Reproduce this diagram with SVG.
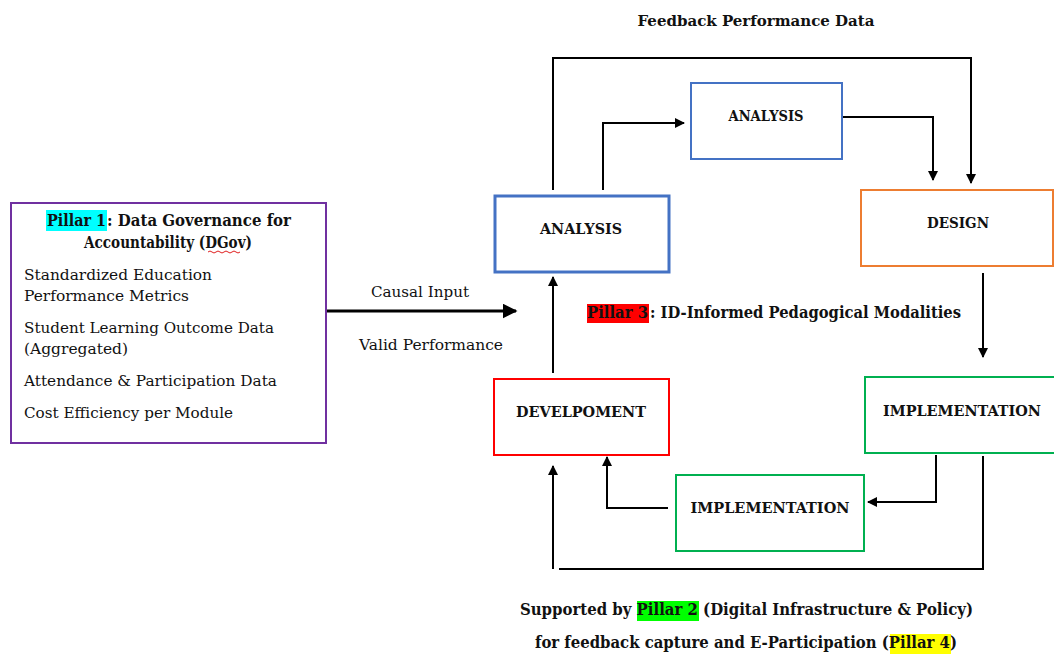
<svg xmlns="http://www.w3.org/2000/svg" width="1054" height="655" viewBox="0 0 1054 655">
<style>
text{font-family:"DejaVu Serif","Liberation Serif",serif;fill:#111}
.b{font-weight:bold}
.lbl{font-weight:bold;font-size:14.5px;text-anchor:middle}
.reg{font-size:15px}
.ln{fill:none;stroke:#000;stroke-width:2}
.box{fill:#fff}
</style>
<defs>
<marker id="ah" viewBox="0 0 10 10" refX="9" refY="5" markerWidth="5" markerHeight="5" orient="auto" markerUnits="strokeWidth">
<path d="M0,0 L10,5 L0,10 z" fill="#000"/>
</marker>
</defs>
<rect width="1054" height="655" fill="#fff"/>

<text class="b" x="756" y="26" font-size="15.5" text-anchor="middle" textLength="237" lengthAdjust="spacingAndGlyphs">Feedback Performance Data</text>

<g id="connectors">
<polyline class="ln" points="553,190 553,58 971,58 971,183" marker-end="url(#ah)"/>
<polyline class="ln" points="603,190 603,123 684,123" marker-end="url(#ah)"/>
<polyline class="ln" points="842,117 933,117 933,180" marker-end="url(#ah)"/>
<line class="ln" x1="983" y1="273" x2="983" y2="357" marker-end="url(#ah)"/>
<line class="ln" x1="553" y1="373" x2="553" y2="277" marker-end="url(#ah)"/>
<polyline class="ln" points="936,455 936,502 868,502" marker-end="url(#ah)"/>
<polyline class="ln" points="668,508 607,508 607,457" marker-end="url(#ah)"/>
<polyline class="ln" points="983,456 983,569 559,569"/>
<line class="ln" x1="553" y1="569" x2="553" y2="466" marker-end="url(#ah)"/>
<line x1="327" y1="311" x2="516" y2="311" stroke="#000" stroke-width="3" marker-end="url(#ah)"/>
</g>

<g id="pillar1">
<rect class="box" x="11" y="203" width="315" height="240" stroke="#7030A0" stroke-width="2"/>
<rect x="46" y="210" width="61" height="21" fill="#00FFFF"/>
<text class="b" x="47" y="226" font-size="16" textLength="59" lengthAdjust="spacingAndGlyphs">Pillar 1</text>
<text class="b" x="107" y="226" font-size="16" textLength="184" lengthAdjust="spacingAndGlyphs">: Data Governance for</text>
<text class="b" x="168" y="248" font-size="16" text-anchor="middle" textLength="168" lengthAdjust="spacingAndGlyphs">Accountability (DGov)</text>
<path d="M208,252 q2,-2 4,0 t4,0 t4,0 t4,0 t4,0 t4,0 t4,0 t4,0" fill="none" stroke="#e02020" stroke-width="1"/>
<text class="reg" x="24" y="280" textLength="188" lengthAdjust="spacingAndGlyphs">Standardized Education</text>
<text class="reg" x="24" y="301" textLength="165" lengthAdjust="spacingAndGlyphs">Performance Metrics</text>
<text class="reg" x="24" y="333" textLength="250" lengthAdjust="spacingAndGlyphs">Student Learning Outcome Data</text>
<text class="reg" x="24" y="354" textLength="104" lengthAdjust="spacingAndGlyphs">(Aggregated)</text>
<text class="reg" x="24" y="386" textLength="253" lengthAdjust="spacingAndGlyphs">Attendance &amp; Participation Data</text>
<text class="reg" x="24" y="418" textLength="209" lengthAdjust="spacingAndGlyphs">Cost Efficiency per Module</text>
</g>

<g id="edge-labels">
<text class="reg" x="420" y="297" text-anchor="middle" textLength="98" lengthAdjust="spacingAndGlyphs">Causal Input</text>
<text class="reg" x="431" y="350" text-anchor="middle" textLength="144" lengthAdjust="spacingAndGlyphs">Valid Performance</text>
</g>

<g id="analysis-main">
<rect class="box" x="495" y="196" width="174" height="76" stroke="#4472C4" stroke-width="3"/>
<text class="lbl" x="581" y="234" textLength="82" lengthAdjust="spacingAndGlyphs">ANALYSIS</text>
</g>

<g id="analysis-top">
<rect class="box" x="691" y="83" width="151" height="76" stroke="#4472C4" stroke-width="2"/>
<text class="lbl" x="766" y="121" font-size="13" textLength="75" lengthAdjust="spacingAndGlyphs">ANALYSIS</text>
</g>

<g id="design">
<rect class="box" x="861" y="190" width="192" height="76" stroke="#ED7D31" stroke-width="2"/>
<text class="lbl" x="958" y="228" textLength="62" lengthAdjust="spacingAndGlyphs">DESIGN</text>
</g>

<g id="implementation-right">
<rect class="box" x="865" y="377" width="192" height="76" stroke="#00B050" stroke-width="2"/>
<text class="lbl" x="962" y="416" textLength="158" lengthAdjust="spacingAndGlyphs">IMPLEMENTATION</text>
</g>

<g id="development">
<rect class="box" x="494" y="379" width="175" height="76" stroke="#FF0000" stroke-width="2"/>
<text class="lbl" x="581" y="417" textLength="130" lengthAdjust="spacingAndGlyphs">DEVELPOMENT</text>
</g>

<g id="implementation-bottom">
<rect class="box" x="676" y="475" width="188" height="76" stroke="#00B050" stroke-width="2"/>
<text class="lbl" x="770" y="513" textLength="159" lengthAdjust="spacingAndGlyphs">IMPLEMENTATION</text>
</g>

<g id="pillar3">
<rect x="587" y="304" width="62" height="19" fill="#FF0000"/>
<text class="b" x="587" y="318" font-size="16" textLength="61" lengthAdjust="spacingAndGlyphs">Pillar 3</text>
<text class="b" x="650" y="318" font-size="16" textLength="311" lengthAdjust="spacingAndGlyphs">: ID-Informed Pedagogical Modalities</text>
</g>

<g id="footer">
<rect x="637" y="601" width="62" height="20" fill="#00FF00"/>
<rect x="890" y="634" width="61" height="20" fill="#FFFF00"/>
<text class="b" x="520" y="615" font-size="16" textLength="453" lengthAdjust="spacingAndGlyphs">Supported by Pillar 2 (Digital Infrastructure &amp; Policy)</text>
<text class="b" x="535" y="648" font-size="16" textLength="422" lengthAdjust="spacingAndGlyphs">for feedback capture and E-Participation (Pillar 4)</text>
</g>
</svg>
